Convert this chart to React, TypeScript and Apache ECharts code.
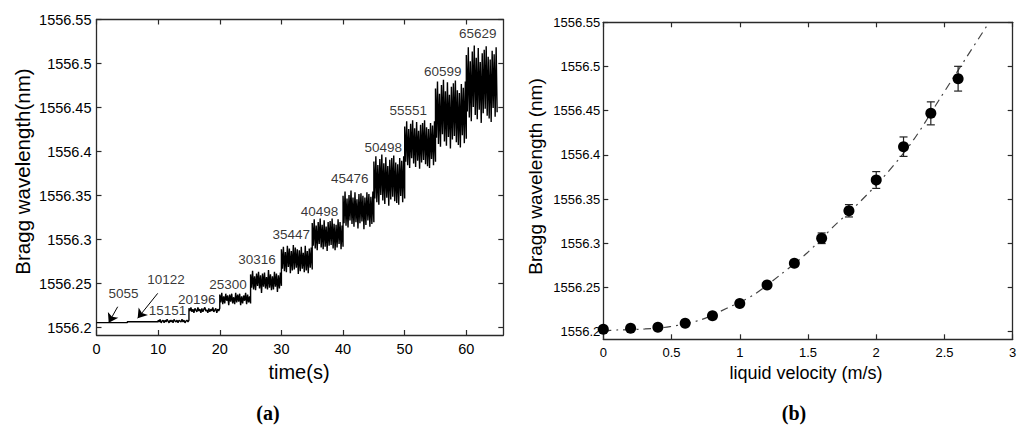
import React, { useEffect, useRef } from "react";
import * as echarts from "echarts";

// ---------- Panel (a): time series ----------
const leftXTicks = [0, 10, 20, 30, 40, 50, 60];
const leftYTicks = [1556.2, 1556.25, 1556.3, 1556.35, 1556.4, 1556.45, 1556.5, 1556.55];
const stepDuration = 5;
const stepStarts = [0, 5, 10, 15, 20, 25, 30, 35, 40, 45, 50, 55, 60];
const stepLevels = [
  1556.2057, 1556.2068, 1556.2075, 1556.22, 1556.2326, 1556.2525, 1556.277,
  1556.305, 1556.3337, 1556.3666, 1556.4075, 1556.4416, 1556.4756,
];
// readings around each step level, in pm (0.001 nm)
const stepNoise: number[][] = [
  [0, 0],
  [0, 0],
  [1, -1, 2, -2, 0, 1, -2, 1, -1, 2, 0, -2, 1, -1, 1, -2, 2, 0, -1, 1, -2, 1, 0, -1, 2, -1, 1, -2, 0, 1, -1, 1],
  [2, -1, 3, -2, 1, -3, 2, 0, -2, 3, -1, 1, -3, 2, -2, 1, 3, -1, 0, -3, 2, -2, 1, -1, 3, -2, 0, 2, -3, 1, -1, 2],
  [5, -4, 7, -6, 3, -5, 6, -2, 4, -7, 5, -3, 6, -5, 2, -6, 7, -4, 5, -3, 6, -7, 3, -5, 4, -2, 7, -6, 5, -4, 3, -5],
  [8, -7, 12, -9, 6, -10, 9, -5, 11, -8, 7, -13, 9, -6, 10, -8, 5, -9, 13, -7, 8, -10, 6, -9, 11, -6, 9, -12, 7, -8, 10, -5],
  [12, -10, 15, -13, 9, -14, 16, -8, 13, -15, 10, -12, 17, -11, 14, -9, 12, -16, 11, -13, 15, -10, 8, -14, 16, -12, 10, -15, 13, -9, 14, -11],
  [14, -12, 18, -15, 11, -17, 15, -10, 19, -14, 12, -16, 17, -13, 10, -18, 15, -12, 16, -11, 19, -15, 13, -17, 12, -14, 18, -10, 15, -16, 11, -13],
  [16, -15, 21, -18, 13, -20, 17, -12, 22, -16, 14, -19, 20, -14, 12, -21, 18, -15, 19, -13, 16, -22, 14, -17, 20, -12, 18, -19, 15, -16, 21, -14],
  [22, -20, 28, -24, 18, -27, 25, -16, 30, -22, 20, -26, 27, -19, 17, -28, 24, -21, 26, -18, 29, -23, 21, -25, 19, -27, 26, -17, 23, -24, 28, -20],
  [21, -19, 27, -23, 18, -26, 24, -15, 28, -21, 19, -25, 26, -18, 16, -27, 23, -20, 25, -17, 28, -22, 20, -24, 18, -26, 25, -16, 22, -23, 27, -19],
  [30, -26, 38, -33, 24, -36, 34, -22, 40, -30, 27, -35, 37, -25, 23, -38, 32, -28, 36, -24, 39, -31, 28, -34, 25, -37, 35, -23, 31, -32, 38, -27],
  [34, -30, 43, -37, 27, -41, 38, -25, 45, -34, 31, -39, 42, -28, 26, -43, 36, -32, 40, -27, 44, -35, 32, -38, 29, -42, 39, -26, 35, -36, 43, -31],
];
const annoLabels = ["5055", "10122", "15151", "20196", "25300", "30316", "35447", "40498", "45476", "50498", "55551", "60599", "65629"];
const annoT = [4.38, 11.28, 11.52, 16.26, 21.33, 26.04, 31.6, 36.18, 41.08, 46.53, 50.59, 56.18, 61.85];
const annoV = [1556.2383, 1556.2542, 1556.219, 1556.2323, 1556.2493, 1556.2769, 1556.3061, 1556.3323, 1556.3689, 1556.4044, 1556.4472, 1556.4915, 1556.5343];
const arrowFrom = [[3.44, 1556.2238], [9.93, 1556.239]];
const arrowTo = [[1.98, 1556.2057], [6.68, 1556.2107]];

// ---------- Panel (b): velocity ----------
const rightXTicks = [0, 0.5, 1, 1.5, 2, 2.5, 3];
const rightYTicks = leftYTicks;
const velocity = [0, 0.2, 0.4, 0.6, 0.8, 1.0, 1.2, 1.4, 1.6, 1.8, 2.0, 2.2, 2.4, 2.6];
const wavelength = [
  1556.2027, 1556.2038, 1556.205, 1556.2095, 1556.218, 1556.232, 1556.2528,
  1556.2774, 1556.3057, 1556.3368, 1556.3716, 1556.4093, 1556.447, 1556.4862,
];
const wlError = [0.001, 0.001, 0.001, 0.001, 0.0015, 0.002, 0.002, 0.003, 0.006, 0.007, 0.0095, 0.011, 0.013, 0.014];
const fitX = [0, 0.098, 0.306, 0.489, 0.709, 0.905, 1.1, 1.295, 1.491, 1.686, 1.882, 2.078, 2.273, 2.468, 2.664, 2.823];
const fitY = [
  1556.201, 1556.2019, 1556.2031, 1556.2057, 1556.2132, 1556.2265, 1556.2415, 1556.2641,
  1556.2887, 1556.3188, 1556.3471, 1556.3792, 1556.4169, 1556.464, 1556.511, 1556.5489,
];

const FONT = "Arial, 'Liberation Sans', sans-serif";
const AX = "#2a2a2a";

function makeAxisPair(kind: "x" | "y", grid: number, min: number, max: number, ticks: number[], fontSize: number, margin: number) {
  const common = {
    type: "value",
    gridIndex: grid,
    min,
    max,
    splitLine: { show: false },
    axisLine: { show: true, onZero: false, lineStyle: { color: AX, width: 1.3 } },
    axisTick: { show: true, inside: true, length: 5, customValues: ticks, lineStyle: { color: AX, width: 1.2 } },
  };
  const main = {
    ...common,
    position: kind === "x" ? "bottom" : "left",
    axisLabel: {
      show: true,
      customValues: ticks,
      fontSize,
      fontFamily: FONT,
      color: "#000",
      margin,
      formatter: (v: number) => String(Math.round(v * 1000) / 1000),
    },
  };
  const opp = {
    ...common,
    position: kind === "x" ? "top" : "right",
    axisLabel: { show: false },
  };
  return [main, opp];
}

export default function App() {
  const ref = useRef<HTMLDivElement>(null);
  useEffect(() => {
    if (!ref.current) return;
    const chart = echarts.init(ref.current, null, { renderer: "svg" });

    const leftData: number[][] = [];
    stepStarts.forEach((t0, i) => {
      const n = stepNoise[i];
      const m = n.length;
      n.forEach((o, j) => leftData.push([t0 + (j * stepDuration) / (m - 1), stepLevels[i] + o / 1000]));
    });

    const annoData = annoLabels.map((s, i) => ({ name: s, value: [annoT[i], annoV[i]] }));
    const arrows = arrowFrom.map((f, i) => [{ coord: f }, { coord: arrowTo[i] }]);

    const pts = velocity.map((v, i) => [v, wavelength[i]]);
    const errs = velocity.map((v, i) => [v, wavelength[i], wlError[i]]);
    const fit = fitX.map((x, i) => [x, fitY[i]]);

    const yMinL = 1556.1917;
    const yMinR = 1556.1914;

    const [lx0, lx1] = makeAxisPair("x", 0, 0, 66, leftXTicks, 14.5, 6);
    const [rx0, rx1] = makeAxisPair("x", 1, 0, 3, rightXTicks, 13, 7);
    const [ly0, ly1] = makeAxisPair("y", 0, yMinL, 1556.55, leftYTicks, 14.5, 5);
    const [ry0, ry1] = makeAxisPair("y", 1, yMinR, 1556.55, rightYTicks, 13, 3);

    chart.setOption({
      animation: false,
      backgroundColor: "#fff",
      grid: [
        { left: 96.5, top: 19.5, width: 406.8, height: 315.5 },
        { left: 603.3, top: 22.3, width: 409.4, height: 317 },
      ],
      xAxis: [lx0, lx1, rx0, rx1],
      yAxis: [ly0, ly1, ry0, ry1],
      series: [
        {
          type: "line",
          xAxisIndex: 0,
          yAxisIndex: 0,
          data: leftData,
          showSymbol: false,
          lineStyle: { color: "#000", width: 1.4 },
          silent: true,
        },
        {
          type: "scatter",
          xAxisIndex: 0,
          yAxisIndex: 0,
          data: annoData,
          symbolSize: 0,
          label: {
            show: true,
            position: "inside",
            formatter: "{b}",
            fontSize: 13.5,
            fontFamily: FONT,
            color: "#000",
          },
          markLine: {
            silent: true,
            symbol: ["none", "arrow"],
            symbolSize: 9,
            label: { show: false },
            lineStyle: { color: "#000", width: 1, type: "solid" },
            data: arrows,
          },
        },
        {
          type: "line",
          xAxisIndex: 2,
          yAxisIndex: 2,
          data: fit,
          smooth: 0.3,
          showSymbol: false,
          lineStyle: { color: "#444", width: 1.2, type: [8, 5, 2, 5] },
          silent: true,
          z: 1,
        },
        {
          type: "custom",
          xAxisIndex: 2,
          yAxisIndex: 2,
          data: errs,
          z: 2,
          renderItem: (_p: any, api: any) => {
            const x = api.value(0);
            const y = api.value(1);
            const e = api.value(2);
            const top = api.coord([x, y + e]);
            const bot = api.coord([x, y - e]);
            const hw = 4;
            const st = { stroke: "#222", lineWidth: 1.2 };
            return {
              type: "group",
              children: [
                { type: "line", shape: { x1: top[0], y1: top[1], x2: bot[0], y2: bot[1] }, style: st },
                { type: "line", shape: { x1: top[0] - hw, y1: top[1], x2: top[0] + hw, y2: top[1] }, style: st },
                { type: "line", shape: { x1: bot[0] - hw, y1: bot[1], x2: bot[0] + hw, y2: bot[1] }, style: st },
              ],
            };
          },
        },
        {
          type: "scatter",
          xAxisIndex: 2,
          yAxisIndex: 2,
          data: pts,
          symbol: "circle",
          symbolSize: 11,
          itemStyle: { color: "#000", opacity: 1 },
          z: 3,
        },
      ],
      graphic: [
        {
          type: "text",
          x: 22,
          y: 171.5,
          rotation: Math.PI / 2,
          style: { text: "Bragg wavelength(nm)", fontSize: 20.5, fontFamily: FONT, fill: "#000", align: "center", verticalAlign: "middle" },
        },
        {
          type: "text",
          x: 299,
          y: 371.7,
          style: { text: "time(s)", fontSize: 20, fontFamily: FONT, fill: "#000", align: "center", verticalAlign: "middle" },
        },
        {
          type: "text",
          x: 535,
          y: 176.5,
          rotation: Math.PI / 2,
          style: { text: "Bragg wavelength (nm)", fontSize: 19, fontFamily: FONT, fill: "#000", align: "center", verticalAlign: "middle" },
        },
        {
          type: "text",
          x: 806,
          y: 372.7,
          style: { text: "liquid velocity (m/s)", fontSize: 18, fontFamily: FONT, fill: "#000", align: "center", verticalAlign: "middle" },
        },
        {
          type: "text",
          x: 268,
          y: 413,
          style: { text: "(a)", fontSize: 20, fontWeight: "bold", fontFamily: "'Liberation Serif', 'DejaVu Serif', serif", fill: "#000", align: "center", verticalAlign: "middle" },
        },
        {
          type: "text",
          x: 794,
          y: 413,
          style: { text: "(b)", fontSize: 20, fontWeight: "bold", fontFamily: "'Liberation Serif', 'DejaVu Serif', serif", fill: "#000", align: "center", verticalAlign: "middle" },
        },
      ],
    });
    return () => chart.dispose();
  }, []);
  return (
    <div
      ref={ref}
      style={{ position: "fixed", left: 0, top: 0, width: 1024, height: 432, background: "#fff" }}
    />
  );
}
